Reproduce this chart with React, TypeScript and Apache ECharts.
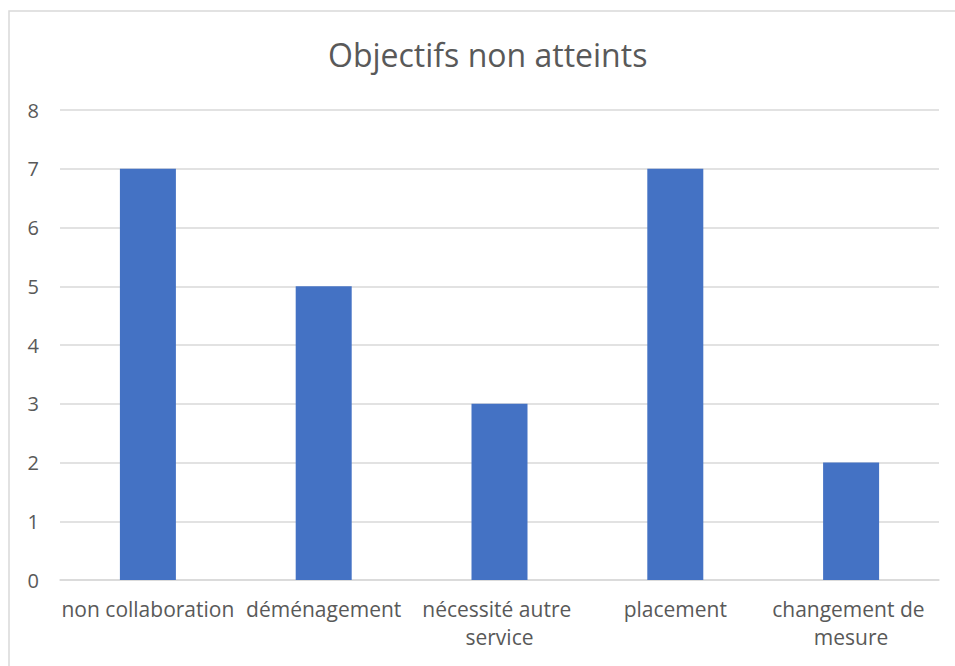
import React, { useEffect, useRef } from "react";
import * as echarts from "echarts";

const categories = [
  "non collaboration",
  "déménagement",
  "nécessité autre service",
  "placement",
  "changement de mesure",
];
const values = [7, 5, 3, 7, 2];
const titleText = "Objectifs non atteints";

export default function App() {
  const ref = useRef<HTMLDivElement>(null);
  useEffect(() => {
    if (!ref.current) return;
    const chart = echarts.init(ref.current, undefined, { renderer: "svg" });
    const font = "'Open Sans', 'Noto Sans', sans-serif";
    chart.setOption({
      animation: false,
      backgroundColor: "#ffffff",
      title: {
        text: titleText,
        left: 323,
        top: 33,
        textStyle: { fontFamily: font, fontSize: 32, fontWeight: "normal", color: "#595959" },
      },
      graphic: [
        {
          type: "rect",
          z: -10,
          shape: { x: 9, y: 11, width: 980, height: 700 },
          style: { fill: "none", stroke: "#D9D9D9", lineWidth: 1.5 },
        },
      ],
      grid: { left: 60, right: 16, top: 110, bottom: 86, containLabel: false },
      xAxis: {
        type: "category",
        data: categories,
        axisTick: { show: false },
        axisLine: { lineStyle: { color: "#D9D9D9", width: 1.5 } },
        axisLabel: {
          interval: 0,
          margin: 15,
          width: 182,
          overflow: "break",
          lineHeight: 28,
          fontFamily: font,
          fontSize: 21,
          color: "#595959",
        },
      },
      yAxis: {
        type: "value",
        min: 0,
        max: 8,
        interval: 1,
        axisLine: { show: false },
        axisTick: { show: false },
        splitLine: { lineStyle: { color: "#D9D9D9", width: 1.5 } },
        axisLabel: { margin: 21, fontFamily: font, fontSize: 20, color: "#595959" },
      },
      series: [
        {
          type: "bar",
          data: values,
          barWidth: 56,
          itemStyle: { color: "#4472C4" },
        },
      ],
    });
    return () => chart.dispose();
  }, []);
  return (
    <div
      ref={ref}
      style={{ position: "fixed", left: 0, top: 0, width: 955, height: 666 }}
    />
  );
}
